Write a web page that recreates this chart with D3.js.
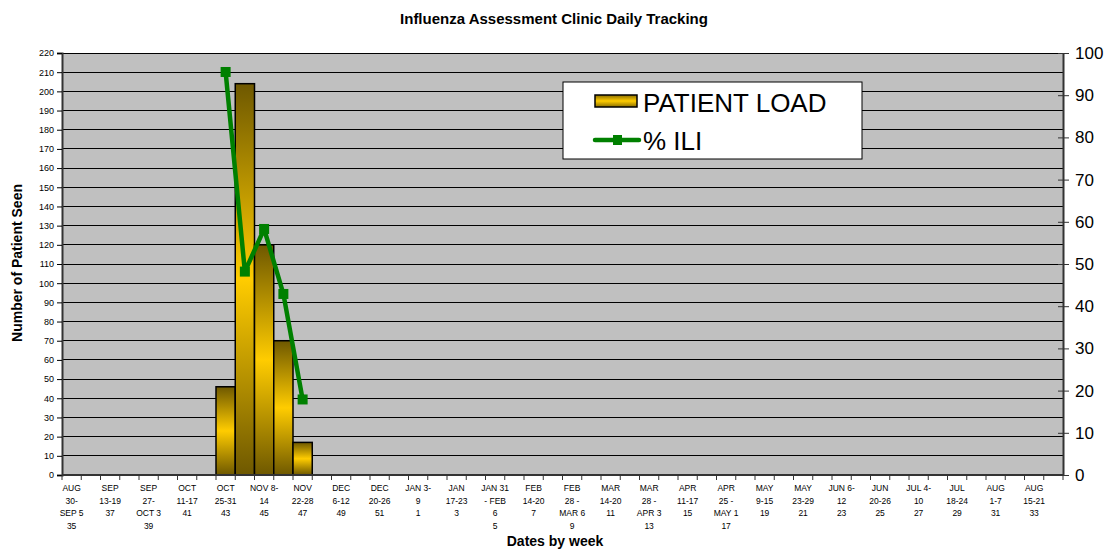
<!DOCTYPE html>
<html>
<head>
<meta charset="utf-8">
<script src="https://cdn.jsdelivr.net/npm/d3@7"></script>
<style>
  body { margin: 0; background: #fff; }
  svg { font-family: Arial, "Liberation Sans", sans-serif; }
</style>
</head>
<body>
<svg id="chart" width="1108" height="552"></svg>
<script>
// Недели сезона (номер недели)
const weeks = [35, 36, 37, 38, 39, 40, 41, 42, 43, 44, 45, 46, 47, 48, 49, 50, 51, 52,
  1, 2, 3, 4, 5, 6, 7, 8, 9, 10, 11, 12, 13, 14, 15, 16, 17, 18, 19, 20, 21, 22, 23, 24,
  25, 26, 27, 28, 29, 30, 31, 32, 33, 34];

// Подписи недель (с переносами как в оригинале)
const dateLabels = ["AUG|30-|SEP 5", "SEP 6-12", "SEP|13-19", "SEP 20-26", "SEP|27-|OCT 3", "OCT 4-10",
  "OCT|11-17", "OCT 18-24", "OCT|25-31", "NOV 1-7", "NOV 8-|14", "NOV 15-21", "NOV|22-28",
  "NOV 29-DEC 5", "DEC|6-12", "DEC 13-19", "DEC|20-26", "DEC 27-JAN 2", "JAN 3-|9", "JAN 10-16",
  "JAN|17-23", "JAN 24-30", "JAN 31|- FEB|6", "FEB 7-13", "FEB|14-20", "FEB 21-27", "FEB|28 -|MAR 6",
  "MAR 7-13", "MAR|14-20", "MAR 21-27", "MAR|28 -|APR 3", "APR 4-10", "APR|11-17", "APR 18-24",
  "APR|25 -|MAY 1", "MAY 2-8", "MAY|9-15", "MAY 16-22", "MAY|23-29", "MAY 30-JUN 5", "JUN 6-|12",
  "JUN 13-19", "JUN|20-26", "JUN 27-JUL 3", "JUL 4-|10", "JUL 11-17", "JUL|18-24", "JUL 25-31",
  "AUG|1-7", "AUG 8-14", "AUG|15-21", "AUG 22-28"];

// Количество пациентов по неделям (только недели с данными)
const loadWeeks = [43, 44, 45, 46, 47];
const patientLoad = [46, 204, 120, 70, 17];
const iliPercent = [95.5, 48.2, 58.3, 42.9, 17.9];

const leftTicks = d3.range(0, 221, 10);
const rightTicks = d3.range(0, 101, 10);

const svg = d3.select("#chart");
const plot = { left: 62, right: 1063, top: 53, bottom: 475 };

const x = d3.scaleBand()
  .domain(weeks)
  .range([plot.left, plot.right])
  .padding(0);

const yLeft = d3.scaleLinear().domain([0, 220]).range([plot.bottom, plot.top]);
const yRight = d3.scaleLinear().domain([0, 100]).range([plot.bottom, plot.top]);

// Градиент для столбцов
const defs = svg.append("defs");
const grad = defs.append("linearGradient")
  .attr("id", "gold")
  .attr("x1", 0).attr("y1", 0).attr("x2", 0).attr("y2", 1);
grad.append("stop").attr("offset", "0%").attr("stop-color", "#6e5800");
grad.append("stop").attr("offset", "50%").attr("stop-color", "#ffcc00");
grad.append("stop").attr("offset", "100%").attr("stop-color", "#6e5800");

const legGrad = defs.append("linearGradient")
  .attr("id", "goldLeg")
  .attr("x1", 0).attr("y1", 0).attr("x2", 0).attr("y2", 1);
legGrad.append("stop").attr("offset", "0%").attr("stop-color", "#8a6e00");
legGrad.append("stop").attr("offset", "50%").attr("stop-color", "#ffcc00");
legGrad.append("stop").attr("offset", "100%").attr("stop-color", "#8a6e00");

// Фон области графика
svg.append("rect")
  .attr("x", plot.left).attr("y", plot.top)
  .attr("width", plot.right - plot.left)
  .attr("height", plot.bottom - plot.top)
  .attr("fill", "#c0c0c0");

// Сетка
svg.append("g")
  .selectAll("line")
  .data(leftTicks.slice(1))
  .enter()
  .append("line")
  .attr("x1", plot.left).attr("x2", plot.right)
  .attr("y1", d => yLeft(d)).attr("y2", d => yLeft(d))
  .attr("stroke", "#000")
  .attr("stroke-width", 1)
  .attr("shape-rendering", "crispEdges");

// Столбцы
const barData = loadWeeks.map((w, i) => ({ week: w, value: patientLoad[i], ili: iliPercent[i] }));

svg.append("g")
  .selectAll("rect")
  .data(barData)
  .enter()
  .append("rect")
  .attr("x", d => x(d.week))
  .attr("y", d => yLeft(d.value))
  .attr("width", x.bandwidth())
  .attr("height", d => yLeft(0) - yLeft(d.value))
  .attr("fill", "url(#gold)")
  .attr("stroke", "#000")
  .attr("stroke-width", 1.5);

// Левая ось
const leftAxis = svg.append("g")
  .attr("transform", "translate(" + plot.left + ",0)")
  .call(d3.axisLeft(yLeft).tickValues(leftTicks).tickSize(5).tickPadding(3));
leftAxis.select(".domain").attr("stroke", "#333").attr("stroke-width", 2);
leftAxis.selectAll("text").attr("font-size", "9px").attr("fill", "#000");

// Правая ось (тики пересекают ось)
const rightAxis = svg.append("g")
  .attr("transform", "translate(" + plot.right + ",0)")
  .call(d3.axisRight(yRight).tickValues(rightTicks).tickSize(0).tickPadding(12));
rightAxis.select(".domain").attr("stroke", "#333").attr("stroke-width", 2);
rightAxis.selectAll("text").attr("font-size", "17px").attr("fill", "#000");
rightAxis.selectAll(".tick").append("line")
  .attr("x1", -5).attr("x2", 6).attr("stroke", "#333");

// Нижняя ось
const xAxisG = svg.append("g");
xAxisG.append("line")
  .attr("x1", plot.left).attr("x2", plot.right)
  .attr("y1", plot.bottom).attr("y2", plot.bottom)
  .attr("stroke", "#333").attr("stroke-width", 2);
xAxisG.selectAll(".xt")
  .data(weeks.map(w => x(w)).concat([plot.right]))
  .enter()
  .append("line")
  .attr("x1", d => d).attr("x2", d => d)
  .attr("y1", plot.bottom).attr("y2", plot.bottom + 5)
  .attr("stroke", "#333");

// Подписи недель — через одну
const labelG = xAxisG.selectAll(".xl")
  .data(weeks.map((w, i) => ({ w: w, i: i })).filter(d => d.i % 2 === 0))
  .enter()
  .append("text")
  .attr("text-anchor", "middle")
  .attr("font-size", "8.5px")
  .attr("fill", "#000");

labelG.each(function(d) {
  const lines = dateLabels[d.i].split("|").concat([String(d.w)]);
  const t = d3.select(this);
  lines.forEach((ln, k) => {
    t.append("tspan")
      .attr("x", x(d.w) + x.bandwidth() / 2)
      .attr("y", plot.bottom + 16 + k * 12.5)
      .text(ln);
  });
});

// Линия % ILI
const line = d3.line()
  .x(d => x(d.week) + x.bandwidth() / 2)
  .y(d => yRight(d.ili));

svg.append("path")
  .datum(barData)
  .attr("d", line)
  .attr("fill", "none")
  .attr("stroke", "#008000")
  .attr("stroke-width", 4.5)
  .attr("stroke-linejoin", "round");

svg.append("g")
  .selectAll("rect")
  .data(barData)
  .enter()
  .append("rect")
  .attr("x", d => x(d.week) + x.bandwidth() / 2 - 5)
  .attr("y", d => yRight(d.ili) - 5)
  .attr("width", 10)
  .attr("height", 10)
  .attr("fill", "#008000");

// Легенда
const leg = svg.append("g");
leg.append("rect")
  .attr("x", 563).attr("y", 82)
  .attr("width", 299).attr("height", 77)
  .attr("fill", "#fff")
  .attr("stroke", "#000")
  .attr("stroke-width", 1);
leg.append("rect")
  .attr("x", 595).attr("y", 95)
  .attr("width", 42).attr("height", 12)
  .attr("fill", "url(#goldLeg)")
  .attr("stroke", "#000")
  .attr("stroke-width", 1.5);
leg.append("text")
  .attr("x", 643).attr("y", 112)
  .attr("font-size", "26px")
  .text("PATIENT LOAD");
leg.append("line")
  .attr("x1", 595).attr("x2", 639)
  .attr("y1", 140).attr("y2", 140)
  .attr("stroke", "#008000")
  .attr("stroke-width", 4.5)
  .attr("stroke-linecap", "round");
leg.append("rect")
  .attr("x", 613).attr("y", 135)
  .attr("width", 9).attr("height", 10)
  .attr("fill", "#008000");
leg.append("text")
  .attr("x", 643).attr("y", 150)
  .attr("font-size", "26px")
  .text("% ILI");

// Заголовки
svg.append("text")
  .attr("x", 554).attr("y", 24)
  .attr("text-anchor", "middle")
  .attr("font-size", "15px")
  .attr("font-weight", "bold")
  .text("Influenza Assessment Clinic Daily Tracking");

svg.append("text")
  .attr("transform", "translate(22,263) rotate(-90)")
  .attr("text-anchor", "middle")
  .attr("font-size", "14px")
  .attr("font-weight", "bold")
  .text("Number of Patient Seen");

svg.append("text")
  .attr("x", 555).attr("y", 546)
  .attr("text-anchor", "middle")
  .attr("font-size", "14px")
  .attr("font-weight", "bold")
  .text("Dates by week");
</script>
</body>
</html>
